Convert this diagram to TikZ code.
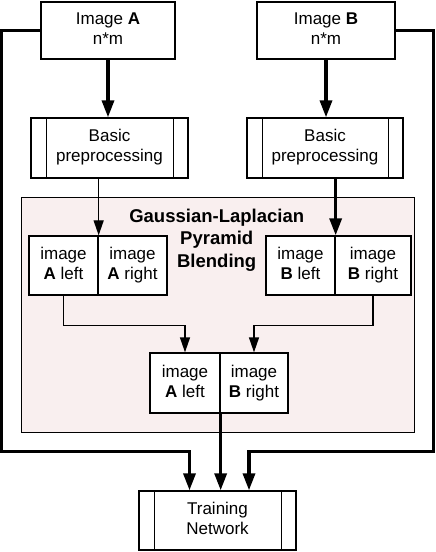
\documentclass[tikz,border=0pt]{standalone}
\usepackage{fontspec}
\setmainfont{Liberation Sans}
\usetikzlibrary{arrows.meta}
\definecolor{pinkbg}{RGB}{249,239,239}
\newcommand{\tline}[1]{#1\strut}
\begin{document}
\begin{tikzpicture}[x=1bp,y=-1bp,
  box/.style={draw=black,line width=1.3bp,fill=white,inner sep=0pt,align=center,
    font=\fontsize{17bp}{20bp}\selectfont},
  thickline/.style={line width=3.3bp,-{Triangle[width=12bp,length=17bp]}},
  thinline/.style={line width=1.3bp,-{Triangle[width=10bp,length=15bp]}},
  barline/.style={line width=1.3bp},
  region/.style={draw=black,line width=1bp,fill=pinkbg,inner sep=0pt}
]
\useasboundingbox (0,0) rectangle (436,552);
% blending region
\node[region,minimum width=392bp,minimum height=234bp] (pink) at (218,315) {};
\node[font=\bfseries\fontsize{18.5bp}{22.5bp}\selectfont,align=center,inner sep=0pt] (title) at (216.7,240) {Gaussian-Laplacian\\Pyramid\\Blending};
% input images
\node[box,minimum width=134bp,minimum height=57bp] (imgA) at (108,30.5) {\tline{Image \textbf{A}}\\\tline{n*m}};
\node[box,minimum width=138bp,minimum height=57bp] (imgB) at (326,30.5) {\tline{Image \textbf{B}}\\\tline{n*m}};
% preprocessing
\node[box,minimum width=157bp,minimum height=60bp] (preA) at (109.5,148) {\tline{Basic}\\\tline{preprocessing}};
\node[box,minimum width=156bp,minimum height=60bp] (preB) at (325,148) {\tline{Basic}\\\tline{preprocessing}};
\draw[barline] ([xshift=16bp]preA.north west) -- ([xshift=16bp]preA.south west);
\draw[barline] ([xshift=-15bp]preA.north east) -- ([xshift=-15bp]preA.south east);
\draw[barline] ([xshift=16bp]preB.north west) -- ([xshift=16bp]preB.south west);
\draw[barline] ([xshift=-15bp]preB.north east) -- ([xshift=-15bp]preB.south east);
% split images
\node[box,minimum width=69bp,minimum height=59bp] (Aleft) at (63.5,265.5) {\tline{image}\\\tline{\textbf{A} left}};
\node[box,minimum width=69bp,minimum height=59bp] (Aright) at (132.5,265.5) {\tline{image}\\\tline{\textbf{A} right}};
\node[box,minimum width=69bp,minimum height=59bp] (Bleft) at (300.5,265.5) {\tline{image}\\\tline{\textbf{B} left}};
\node[box,minimum width=76bp,minimum height=59bp] (Bright) at (373,265.5) {\tline{image}\\\tline{\textbf{B} right}};
% merged image
\node[box,minimum width=70bp,minimum height=60bp] (Mleft) at (185,383) {\tline{image}\\\tline{\textbf{A} left}};
\node[box,minimum width=68bp,minimum height=60bp] (Mright) at (254,383) {\tline{image}\\\tline{\textbf{B} right}};
% training network
\node[box,minimum width=157bp,minimum height=59bp] (train) at (217.5,520.5) {\tline{Training}\\\tline{Network}};
\draw[barline] ([xshift=16bp]train.north west) -- ([xshift=16bp]train.south west);
\draw[barline] ([xshift=-15bp]train.north east) -- ([xshift=-15bp]train.south east);
% connectors
\draw[thickline] (imgA.south) -- (imgA.south |- preA.north);
\draw[thickline] (imgB.south) -- (imgB.south |- preB.north);
\draw[thinline] (preA.south -| Aleft.north east) -- (Aleft.north east);
\draw[thickline] (preB.south -| Bleft.north east) -- (Bleft.north east);
\draw[thinline] (Aleft.south) -- ++(0,30) -| (Mleft.north);
\draw[thinline] (Bright.south) -- ++(0,30) -| (Mright.north);
\coordinate (lc) at (1.7,451.7);
\coordinate (rc) at (433.8,451.7);
\coordinate (tl) at ([xshift=-28bp]train.north);
\coordinate (tr) at ([xshift=31.5bp]train.north);
\draw[thickline] (imgA.west) -| (lc) -| (tl);
\draw[thickline] (imgB.east) -| (rc) -| (tr);
\draw[thickline] (Mleft.south east) -- (Mleft.south east |- train.north);
\end{tikzpicture}
\end{document}
